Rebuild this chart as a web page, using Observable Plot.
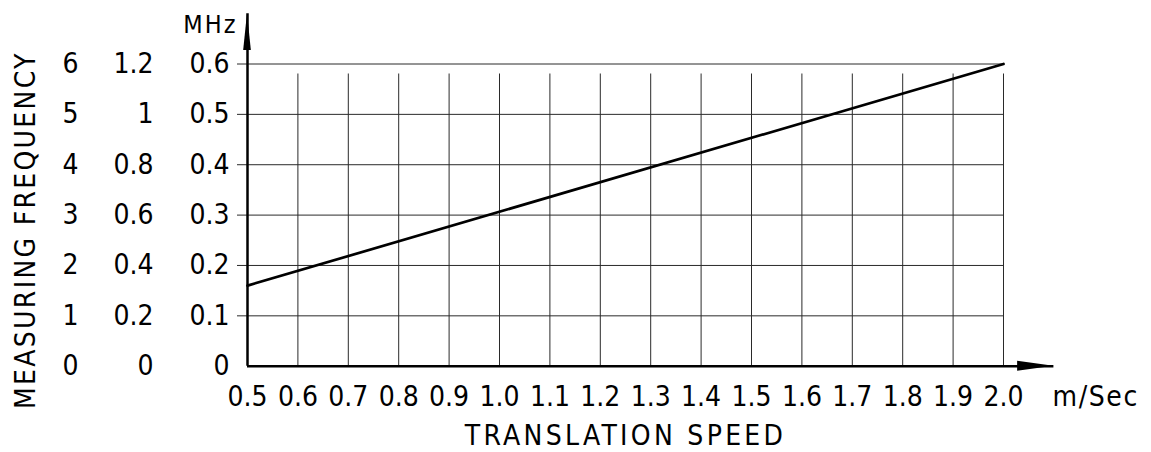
<!DOCTYPE html>
<html><head><meta charset="utf-8">
<script src="https://cdn.jsdelivr.net/npm/d3@7"></script>
<script src="https://cdn.jsdelivr.net/npm/@observablehq/plot@0.6"></script>
<style>html,body{margin:0;padding:0;background:#fff;} #chart svg{display:block}</style>
</head><body><div id="chart"></div>
<script>
// Data
const speed = [0.5, 2.0];            // m/Sec
const frequency = [0.16, 0.6];       // MHz
const xTicks = [0.5,0.6,0.7,0.8,0.9,1.0,1.1,1.2,1.3,1.4,1.5,1.6,1.7,1.8,1.9,2.0];
const xTickLabels = ["0.5","0.6","0.7","0.8","0.9","1.0","1.1","1.2","1.3","1.4","1.5","1.6","1.7","1.8","1.9","2.0"];
const yTicks = [0,0.1,0.2,0.3,0.4,0.5,0.6];
const yLabelsMHz = ["0","0.1","0.2","0.3","0.4","0.5","0.6"];
const yLabelsMid = ["0","0.2","0.4","0.6","0.8","1","1.2"];
const yLabelsOuter = ["0","1","2","3","4","5","6"];
const xAxisEnd = 2.10;
const yAxisEnd = 0.70;
const xArrowHead = [{x: 2.028, y1: -0.0099, y2: 0.0099}, {x: 2.10, y1: 0, y2: 0}];
const yArrowHead = [{y: 0.627, x1: 0.4924, x2: 0.5076}, {y: 0.70, x1: 0.5, x2: 0.5}];

const FONT = "DejaVu Sans Condensed, DejaVu Sans, sans-serif";
const FS = 28;
const pts = speed.map((s, i) => ({x: s, y: frequency[i]}));

const chart = Plot.plot({
  width: 1151,
  height: 452,
  marginLeft: 247,
  marginRight: 148,
  marginTop: 63.5,
  marginBottom: 86.3,
  style: {fontFamily: FONT, background: "#fff"},
  x: {domain: [0.5, 2.0], axis: null},
  y: {domain: [0, 0.6], axis: null},
  marks: [
    Plot.ruleX(xTicks.slice(1), {y1: 0, y2: 0.6, insetBottom: -10, stroke: "#2a2a2a", strokeWidth: 1}),
    Plot.ruleY(yTicks.slice(1), {x1: 0.5, x2: 2.0, insetLeft: -10, stroke: "#2a2a2a", strokeWidth: 1}),
    Plot.ruleY([0], {x1: 0.5, x2: xAxisEnd, stroke: "#000", strokeWidth: 2.5}),
    Plot.ruleX([0.5], {y1: 0, y2: yAxisEnd, stroke: "#000", strokeWidth: 2.5}),
    Plot.areaY(xArrowHead, {x: "x", y1: "y1", y2: "y2", fill: "#000"}),
    Plot.areaX(yArrowHead, {y: "y", x1: "x1", x2: "x2", fill: "#000"}),
    Plot.line(pts, {x: "x", y: "y", stroke: "#000", strokeWidth: 2.7}),
    Plot.text(xTicks, {x: d => d, text: (d, i) => xTickLabels[i], frameAnchor: "bottom", lineAnchor: "top", dy: 20, fontSize: FS, fill: "#000"}),
    Plot.text(yTicks, {y: d => d, text: (d, i) => yLabelsMHz[i], frameAnchor: "left", lineAnchor: "middle", textAnchor: "end", dx: -18, fontSize: FS, fill: "#000"}),
    Plot.text(yTicks, {y: d => d, text: (d, i) => yLabelsMid[i], frameAnchor: "left", lineAnchor: "middle", textAnchor: "end", dx: -94, fontSize: FS, fill: "#000"}),
    Plot.text(yTicks, {y: d => d, text: (d, i) => yLabelsOuter[i], frameAnchor: "left", lineAnchor: "middle", textAnchor: "end", dx: -169, fontSize: FS, fill: "#000"}),
    Plot.text(["m/Sec"], {frameAnchor: "bottom-right", textAnchor: "start", lineAnchor: "top", dx: 49, dy: 20, fontSize: FS, fill: "#000"}),
    Plot.text(["TRANSLATION SPEED"], {frameAnchor: "bottom", textAnchor: "middle", lineAnchor: "middle", dy: 70, fontSize: FS, fill: "#000"}),
    Plot.text(["MHz"], {frameAnchor: "top-left", textAnchor: "end", lineAnchor: "middle", dx: -10, dy: -39.5, fontSize: 25, fill: "#000"}),
    Plot.text(["MEASURING FREQUENCY"], {frameAnchor: "left", textAnchor: "middle", lineAnchor: "middle", rotate: -90, dx: -221, dy: 15, fontSize: FS, fill: "#000"})
  ]
});
const spacing = {"TRANSLATION SPEED": 3.3, "MEASURING FREQUENCY": 2.3, "m/Sec": 1.6, "MHz": 2};
d3.select(chart).selectAll("text").each(function() {
  const s = spacing[this.textContent];
  if (s != null) this.setAttribute("letter-spacing", s);
});
document.getElementById("chart").appendChild(chart);
</script>
</body></html>
